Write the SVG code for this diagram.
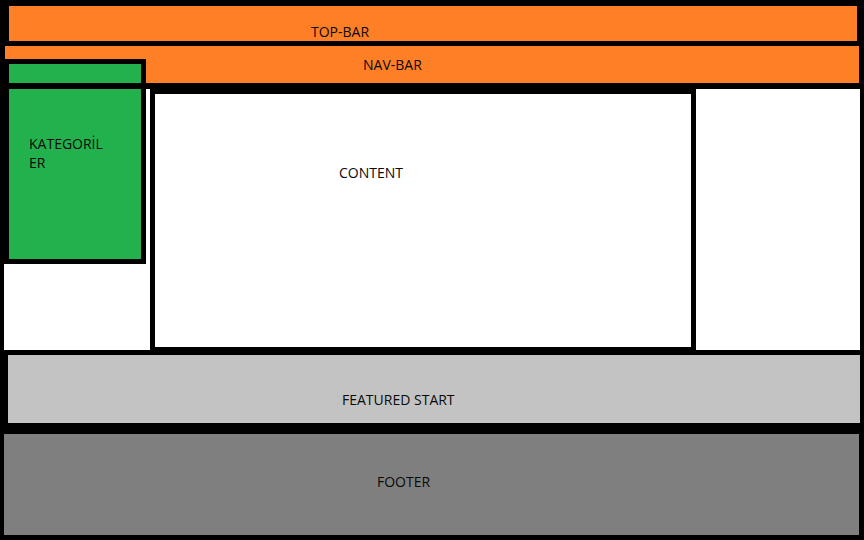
<svg xmlns="http://www.w3.org/2000/svg" width="864" height="540" viewBox="0 0 864 540">
  <style>
    .lbl { font-family: "Open Sans", "Noto Sans", "Liberation Sans", sans-serif; font-size: 14px; fill: #0a0a0a; }
    .orange { fill: #ff7f27; }
    .green { fill: #22b14c; }
    .white { fill: #ffffff; }
    .light { fill: #c3c3c3; }
    .dark { fill: #7f7f7f; }
  </style>
  <!-- page background -->
  <rect x="0" y="0" width="864" height="540" fill="#000000"/>

  <g id="top-bar">
    <rect class="orange" x="9" y="6" width="848" height="35"/>
    <text class="lbl" x="311" y="37">TOP-BAR</text>
  </g>

  <g id="nav-bar">
    <rect class="orange" x="5" y="46" width="854" height="37"/>
    <text class="lbl" x="363" y="70">NAV-BAR</text>
  </g>

  <g id="left-column">
    <rect class="white" x="4" y="89" width="146" height="261"/>
  </g>

  <g id="kategoriler">
    <rect x="4" y="59" width="142" height="205" fill="#000000"/>
    <rect class="green" x="9" y="64" width="132" height="19"/>
    <rect class="green" x="9" y="89" width="132" height="170"/>
    <text class="lbl" x="29" y="149">KATEGORİL</text>
    <text class="lbl" x="29" y="168">ER</text>
  </g>

  <g id="content">
    <rect class="white" x="155" y="94" width="536" height="253"/>
    <text class="lbl" x="339" y="178">CONTENT</text>
  </g>

  <g id="right-column">
    <rect class="white" x="696" y="89" width="164" height="261"/>
  </g>

  <g id="featured-start">
    <rect class="light" x="8" y="355" width="852" height="68"/>
    <text class="lbl" x="342" y="405">FEATURED START</text>
  </g>

  <g id="footer">
    <rect class="dark" x="4" y="434" width="855" height="101"/>
    <text class="lbl" x="377" y="487">FOOTER</text>
  </g>
</svg>
